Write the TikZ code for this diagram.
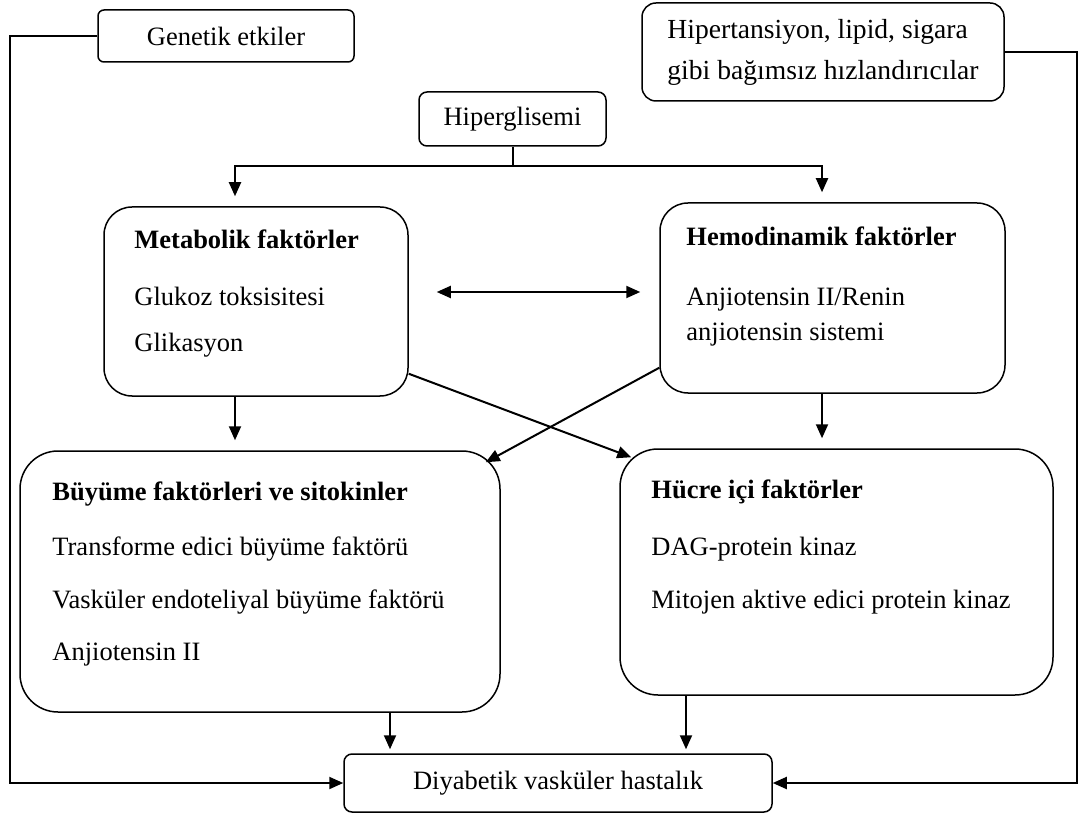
\documentclass[tikz,border=0pt]{standalone}
\usepackage{fontspec}
\setmainfont{Liberation Serif}
\usetikzlibrary{arrows.meta,calc}
\newcommand\dfont{\fontsize{13.25pt}{16pt}\selectfont}
\begin{document}
\begin{tikzpicture}[x=0.5pt,y=-0.5pt,
  box/.style={draw,line width=0.75pt,inner sep=0pt,font=\dfont},
  lbl/.style={anchor=west,inner sep=0pt,text height=9pt,text depth=3pt,font=\dfont},
  ttl/.style={lbl,font=\dfont\bfseries},
  conn/.style={line width=1pt},
  arr/.style={line width=1pt,-{Triangle[length=7pt,width=6pt]}},
  darr/.style={line width=1pt,{Triangle[length=7pt,width=6pt]}-{Triangle[length=7pt,width=6pt]}}]
\useasboundingbox (0,0) rectangle (1079,817);
% boxes
\node[box,rounded corners=3pt,minimum width=128pt,minimum height=26pt] (gen) at (226,36) {Genetik etkiler};
\node[box,rounded corners=7pt,minimum width=181pt,minimum height=49pt,align=left,font=\fontsize{13.8pt}{20.5pt}\selectfont] (hip) at (823,52) {Hipertansiyon, lipid, sigara\\gibi bağımsız hızlandırıcılar};
\node[box,rounded corners=4pt,minimum width=93.5pt,minimum height=27pt] (hg) at (512.5,119) {Hiperglisemi};
\node[box,rounded corners=14pt,minimum width=152pt,minimum height=94.5pt] (met) at (256,301.5) {};
\node[box,rounded corners=14pt,minimum width=172.5pt,minimum height=95pt] (hem) at (832.5,298) {};
\node[box,rounded corners=19pt,minimum width=240pt,minimum height=130.5pt] (bgf) at (260,581.5) {};
\node[box,rounded corners=19pt,minimum width=216.5pt,minimum height=123pt] (hic) at (836.5,572) {};
\node[box,rounded corners=4pt,minimum width=214pt,minimum height=29pt] (dia) at (558,783) {Diyabetik vasküler hastalık};
% texts
\node[ttl] (t1) at (134,243) {Metabolik faktörler};
\node[lbl] (t2) at (134,300) {Glukoz toksisitesi};
\node[lbl] (t3) at (134,345) {Glikasyon};
\node[ttl] (t4) at (686,240) {Hemodinamik faktörler};
\node[lbl] (t5) at (686,300) {Anjiotensin II/Renin};
\node[lbl] (t6) at (686,335) {anjiotensin sistemi};
\node[ttl] (t7) at (52,494) {Büyüme faktörleri ve sitokinler};
\node[lbl] (t8) at (52,549) {Transforme edici büyüme faktörü};
\node[lbl] (t9) at (52,602) {Vasküler endoteliyal büyüme faktörü};
\node[lbl] (t10) at (52,654) {Anjiotensin II};
\node[ttl] (t11) at (651,492) {Hücre içi faktörler};
\node[lbl] (t12) at (651,549) {DAG-protein kinaz};
\node[lbl] (t13) at (651,602) {Mitojen aktive edici protein kinaz};
% helper coordinates
\coordinate (lx) at (10,0);
\coordinate (rx) at (1077,0);
\coordinate (bar) at (0,166);
\coordinate (mx) at (235,0);
\coordinate (hx) at (822,0);
\coordinate (dy) at (0,292);
\coordinate (bx) at (390,0);
\coordinate (cx) at (686,0);
% connectors
\draw[arr] (gen.west) -| (lx |- dia.west) -- (dia.west);
\draw[arr] (hip.east) -| (rx |- dia.east) -- (dia.east);
\draw[conn] (hg.south) -- (hg.south |- bar);
\draw[arr,shorten >=5pt] (hg.south |- bar) -| (met.north -| mx);
\draw[arr,shorten >=5pt] (hg.south |- bar) -| (hem.north -| hx);
\draw[darr,shorten <=14pt,shorten >=9.5pt] (met.east |- dy) -- (hem.west |- dy);
\draw[arr] ($(met.south east)+(0,-23)$) -- ($(hic.north west)+(12,9)$);
\draw[arr] ($(hem.south west)+(0,-26)$) -- ($(bgf.north east)+(-15,12)$);
\draw[arr,shorten >=5pt] (met.south -| mx) -- (bgf.north -| mx);
\draw[arr,shorten >=5pt] (hem.south -| hx) -- (hic.north -| hx);
\draw[arr,shorten >=2pt] (bgf.south -| bx) -- (dia.north -| bx);
\draw[arr,shorten >=2pt] (hic.south -| cx) -- (dia.north -| cx);
\end{tikzpicture}
\end{document}
